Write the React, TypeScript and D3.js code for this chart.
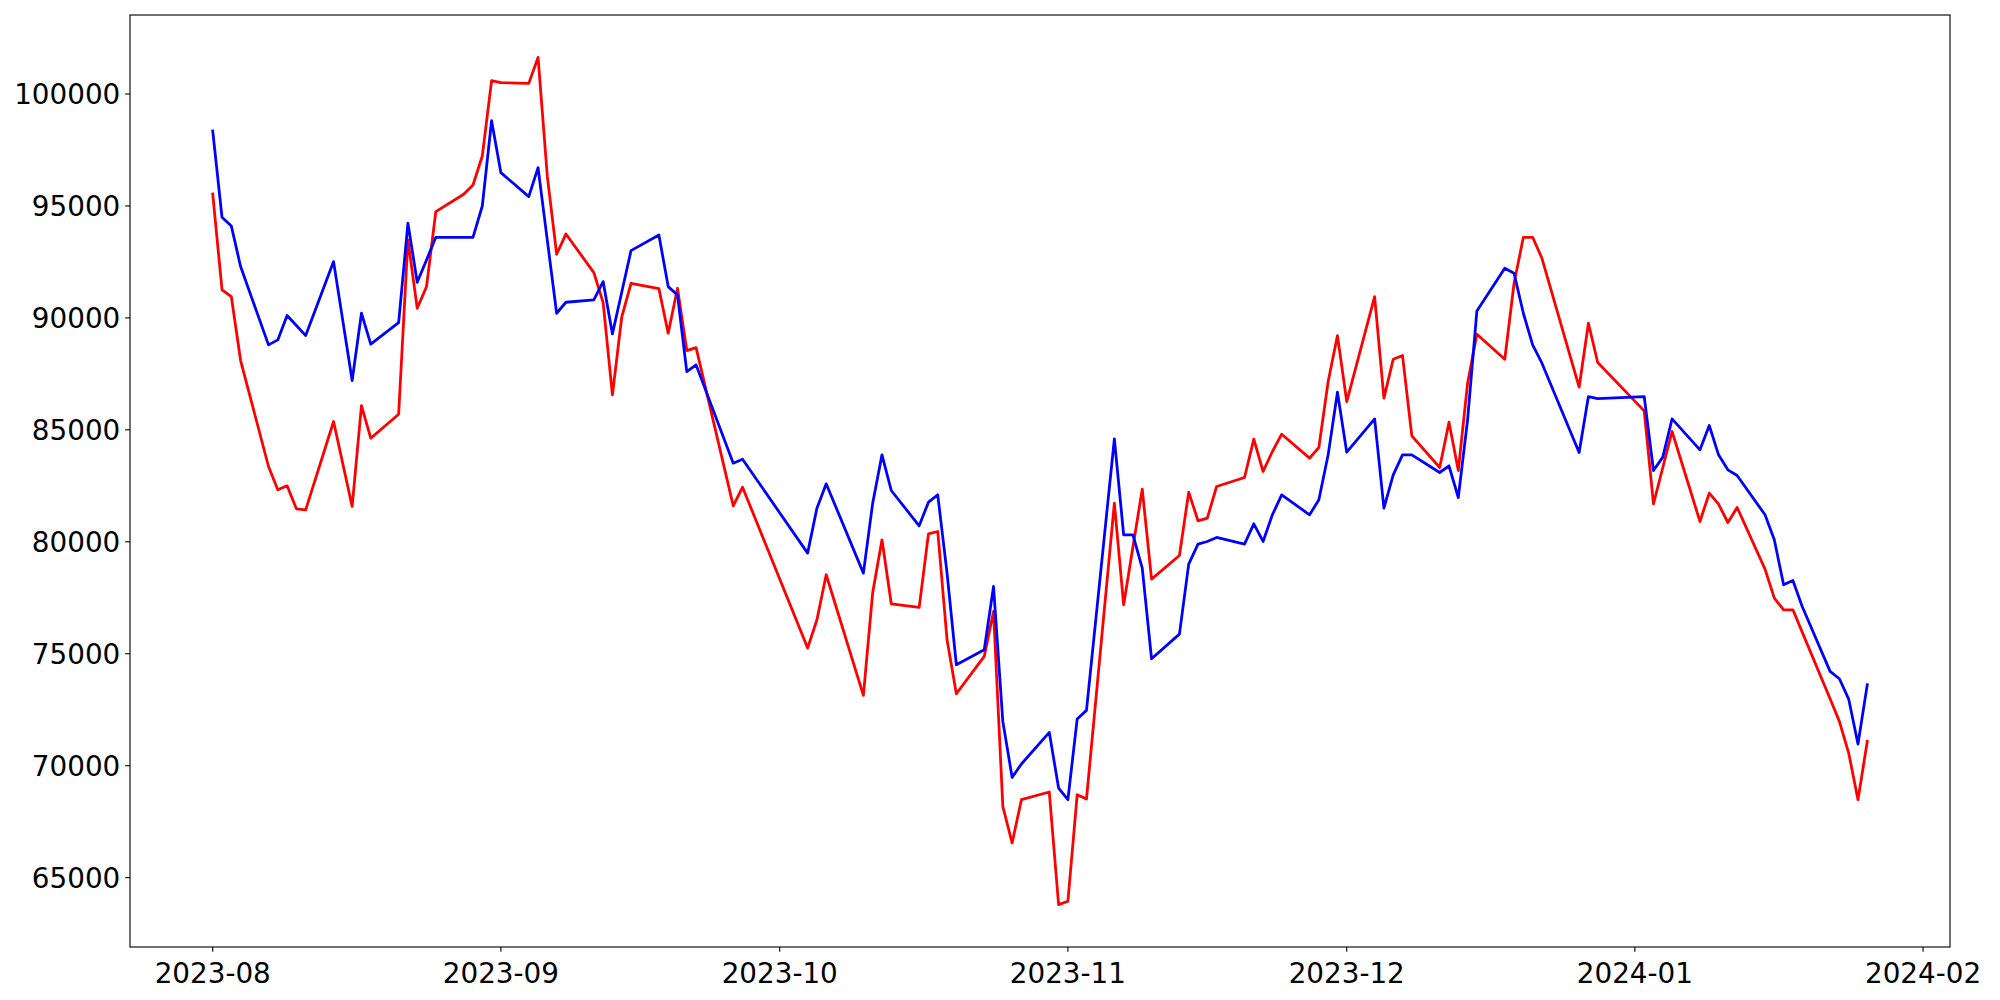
import React from "react";
import * as d3 from "d3";

const dates: string[] = [
  "2023-08-01","2023-08-02","2023-08-03","2023-08-04","2023-08-07","2023-08-08","2023-08-09","2023-08-10","2023-08-11","2023-08-14","2023-08-16","2023-08-17","2023-08-18","2023-08-21","2023-08-22","2023-08-23","2023-08-24","2023-08-25","2023-08-28","2023-08-29","2023-08-30","2023-08-31",
  "2023-09-01","2023-09-04","2023-09-05","2023-09-06","2023-09-07","2023-09-08","2023-09-11","2023-09-12","2023-09-13","2023-09-14","2023-09-15","2023-09-18","2023-09-19","2023-09-20","2023-09-21","2023-09-22","2023-09-26","2023-09-27",
  "2023-10-04","2023-10-05","2023-10-06","2023-10-10","2023-10-11","2023-10-12","2023-10-13","2023-10-16","2023-10-17","2023-10-18","2023-10-19","2023-10-20","2023-10-23","2023-10-24","2023-10-25","2023-10-26","2023-10-27","2023-10-30","2023-10-31",
  "2023-11-01","2023-11-02","2023-11-03","2023-11-06","2023-11-07","2023-11-08","2023-11-09","2023-11-10","2023-11-13","2023-11-14","2023-11-15","2023-11-16","2023-11-17","2023-11-20","2023-11-21","2023-11-22","2023-11-23","2023-11-24","2023-11-27","2023-11-28","2023-11-29","2023-11-30",
  "2023-12-01","2023-12-04","2023-12-05","2023-12-06","2023-12-07","2023-12-08","2023-12-11","2023-12-12","2023-12-13","2023-12-14","2023-12-15","2023-12-18","2023-12-19","2023-12-20","2023-12-21","2023-12-22","2023-12-26","2023-12-27","2023-12-28",
  "2024-01-02","2024-01-03","2024-01-04","2024-01-05","2024-01-08","2024-01-09","2024-01-10","2024-01-11","2024-01-12","2024-01-15","2024-01-16","2024-01-17","2024-01-18","2024-01-19","2024-01-22","2024-01-23","2024-01-24","2024-01-25","2024-01-26",
];

const redValues: number[] = [
  95536, 91250, 90952, 88096, 83363, 82322, 82500, 81473, 81429, 85372, 81578, 86086, 84628, 85700, 93482, 90432, 91399, 94747, 95521, 95937, 97232, 100595,
  100506, 100476, 101637, 96309, 92842, 93750, 92024, 90684, 86563, 90030, 91547, 91309, 89315, 91324, 88541, 88675, 81607, 82440,
  75253, 76518, 78527, 73140, 77738, 80089, 77232, 77068, 80357, 80461, 75625, 73214, 74881, 76890, 68184, 66547, 68482, 68824, 63794,
  63943, 68705, 68512, 81726, 77188, 79777, 82351, 78334, 79390, 82218, 80938, 81057, 82470, 82872, 84583, 83140, 84033, 84806, 83735, 84211, 87158, 89211,
  86265, 90953, 86414, 88155, 88319, 84732, 83318, 85342, 83184, 87083, 89271, 88155, 91548, 93601, 93601, 92664, 86905, 89762, 88006,
  85848, 81696, 83318, 84926, 80908, 82172, 81681, 80862, 81533, 78780, 77485, 76964, 76964, 75967, 72991, 71979, 70565, 68481, 71086,
];

const blueValues: number[] = [
  98349, 94494, 94108, 92292, 88795, 89018, 90105, 89658, 89211, 92515, 87203, 90209, 88825, 89792, 94227, 91592, 92590, 93601, 93601, 93601, 94999, 98809,
  96488, 95416, 96711, 93452, 90208, 90699, 90803, 91622, 89285, 91146, 93006, 93705, 91398, 91026, 87604, 87902, 83512, 83690,
  79494, 81503, 82589, 78601, 81726, 83884, 82291, 80714, 81770, 82098, 78601, 74509, 75178, 78006, 71979, 69479, 70074, 71488, 69003,
  68482, 72083, 72470, 84598, 80313, 80313, 78825, 74777, 75878, 79003, 79896, 80015, 80194, 79896, 80804, 80015, 81206, 82098, 81206, 81875, 83884, 86682,
  84003, 85491, 81503, 82991, 83884, 83884, 83095, 83393, 81979, 85446, 90313, 92217, 91994, 90208, 88795, 87976, 83988, 86488, 86399,
  86488, 83184, 83780, 85491, 84107, 85193, 83884, 83214, 82961, 81205, 80089, 78080, 78274, 77113, 74211, 73883, 72976, 70967, 73616,
];

const xTickLabels: string[] = ["2023-08", "2023-09", "2023-10", "2023-11", "2023-12", "2024-01", "2024-02"];
const yTickValues: number[] = [65000, 70000, 75000, 80000, 85000, 90000, 95000, 100000];

const W = 2000;
const H = 1000;
const M = { left: 130, right: 1950, top: 15, bottom: 947 };
const FONT = "'DejaVu Sans', sans-serif";
const FS = 27.8;

export default function App() {
  const parse = d3.utcParse("%Y-%m-%d");
  const parseMonth = d3.utcParse("%Y-%m");
  const xs = dates.map((d) => parse(d) as Date);

  const [x0, x1] = d3.extent(xs) as [Date, Date];
  const span = +x1 - +x0;
  const x = d3
    .scaleUtc()
    .domain([new Date(+x0 - span * 0.05), new Date(+x1 + span * 0.05)])
    .range([M.left, M.right]);

  const all = redValues.concat(blueValues);
  const [yMin, yMax] = d3.extent(all) as [number, number];
  const ySpan = yMax - yMin;
  const y = d3
    .scaleLinear()
    .domain([yMin - ySpan * 0.05, yMax + ySpan * 0.05])
    .range([M.bottom, M.top]);

  const line = d3
    .line<number>()
    .x((_, i) => x(xs[i]))
    .y((v) => y(v));

  const tickLen = 4.86;
  const pad = 4.86;

  return (
    <svg
      width={W}
      height={H}
      style={{ position: "absolute", left: 0, top: 0, background: "#fff" }}
      fontFamily={FONT}
    >
      <rect x={0} y={0} width={W} height={H} fill="#fff" />
      <path d={line(redValues) || ""} fill="none" stroke="#ff0000" strokeWidth={2.78} strokeLinejoin="round" strokeLinecap="square" />
      <path d={line(blueValues) || ""} fill="none" stroke="#0000ff" strokeWidth={2.78} strokeLinejoin="round" strokeLinecap="square" />
      <rect
        x={M.left}
        y={M.top}
        width={M.right - M.left}
        height={M.bottom - M.top}
        fill="none"
        stroke="#000"
        strokeWidth={1.11}
      />
      {xTickLabels.map((t) => {
        const px = x(parseMonth(t) as Date);
        return (
          <g key={t}>
            <line x1={px} x2={px} y1={M.bottom} y2={M.bottom + tickLen} stroke="#000" strokeWidth={1.11} />
            <text x={px} y={982.5} textAnchor="middle" fontSize={FS} fill="#000">
              {t}
            </text>
          </g>
        );
      })}
      {yTickValues.map((v) => {
        const py = y(v);
        return (
          <g key={v}>
            <line x1={M.left - tickLen} x2={M.left} y1={py} y2={py} stroke="#000" strokeWidth={1.11} />
            <text x={M.left - tickLen - pad} y={py + 10.1} textAnchor="end" fontSize={FS} fill="#000">
              {v}
            </text>
          </g>
        );
      })}
    </svg>
  );
}
